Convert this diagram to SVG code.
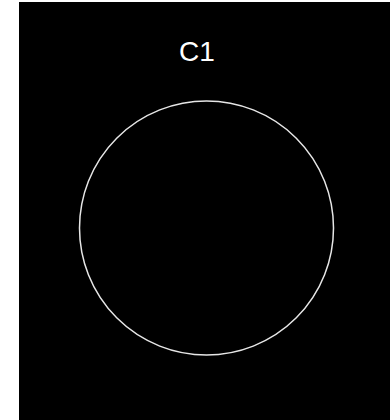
<svg xmlns="http://www.w3.org/2000/svg" width="390" height="420" viewBox="0 0 390 420">
<style>
.lbl{font-family:"Liberation Sans",Arial,sans-serif;font-size:28px;fill:#fff;text-anchor:middle}
.shape{fill:none;stroke:#e6e6e6;stroke-width:1.5}
</style>
<rect x="0" y="0" width="390" height="420" fill="#fff"/>
<rect x="19" y="2" width="371" height="418" fill="#000"/>
<g id="C1">
<text class="lbl" x="197" y="61">C1</text>
<circle class="shape" cx="206.5" cy="228" r="127"/>
</g>
</svg>
